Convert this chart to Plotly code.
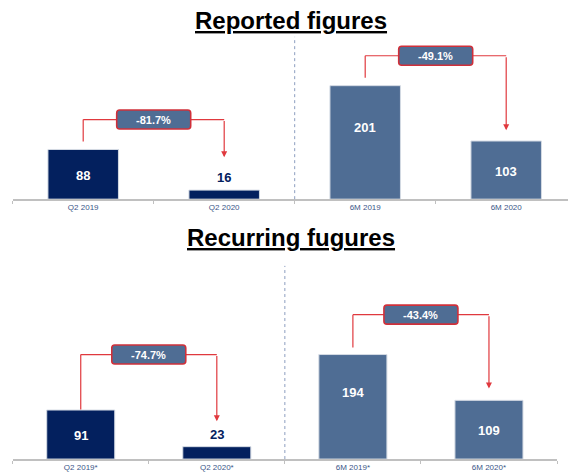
import plotly.graph_objects as go

# ---------------- data ----------------
titles = ["Reported figures", "Recurring fugures"]
top_categories = ["Q2 2019", "Q2 2020", "6M 2019", "6M 2020"]
top_values = [88, 16, 201, 103]
top_changes = ["-81.7%", "-49.1%"]
bottom_categories = ["Q2 2019*", "Q2 2020*", "6M 2019*", "6M 2020*"]
bottom_values = [91, 23, 194, 109]
bottom_changes = ["-74.7%", "-43.4%"]

# ---------------- style ----------------
W, H = 568, 472
NAVY = "#03205E"
STEEL = "#4F6D94"
RED = "#E0393E"
BOX_BORDER = "#D0303A"
AXIS = "#C0C0C0"
TICKFONT = "#3B5688"
FONT = "Liberation Sans, Arial, sans-serif"
bar_colors = [NAVY, NAVY, STEEL, STEEL]

# label position as fraction of bar height (None -> above the bar)
label_frac = [[0.48, None, 0.63, 0.48], [0.49, None, 0.64, 0.49]]
# bracket levels (start, horizontal level, arrow tip) in data units
brackets = [[(102, 141, 74), (215, 254, 122)], [(92, 194, 70), (207, 268, 131)]]


def py(p):
    return (H - p) / H


panels = [
    dict(cats=top_categories, vals=top_values, changes=top_changes, title=titles[0],
         xa="x", ya="y", xdom=[12.7 / W, 1.0], ydom=[py(200), py(40)],
         xr=[-0.5, -0.5 + (W - 12.7) / 141.0], yr=[0, 160 / 0.567],
         div=[py(200), py(37)], title_y=py(21)),
    dict(cats=bottom_categories, vals=bottom_values, changes=bottom_changes, title=titles[1],
         xa="x2", ya="y2", xdom=[12.7 / W, 557 / W], ydom=[py(461), py(267)],
         xr=[-0.5, 3.5], yr=[0, 194 / 0.541],
         div=[py(461), py(267)], title_y=py(239)),
]

fig = go.Figure()
shapes = []
annotations = []

for k, p in enumerate(panels):
    fig.add_trace(go.Bar(
        x=p["cats"], y=p["vals"], xaxis=p["xa"], yaxis=p["ya"],
        marker=dict(color=bar_colors, line=dict(color="#D5DBE4", width=1)),
        width=0.5, hoverinfo="skip", showlegend=False,
    ))
    # data labels
    for i, v in enumerate(p["vals"]):
        f = label_frac[k][i]
        if f is None:
            annotations.append(dict(x=i, y=v, xref=p["xa"], yref=p["ya"], text="<b>%d</b>" % v,
                                    showarrow=False, yanchor="bottom", yshift=3,
                                    font=dict(family=FONT, size=13, color=NAVY)))
        else:
            annotations.append(dict(x=i, y=v * f, xref=p["xa"], yref=p["ya"], text="<b>%d</b>" % v,
                                    showarrow=False, yanchor="middle",
                                    font=dict(family=FONT, size=13, color="white")))
    # divider
    shapes.append(dict(type="line", xref=p["xa"], yref="paper", x0=1.5, x1=1.5,
                       y0=p["div"][0], y1=p["div"][1],
                       line=dict(color="#8C9DBF", width=1, dash="dot")))
    # brackets
    for j, ch in enumerate(p["changes"]):
        a, b = 2 * j, 2 * j + 1
        start, level, tip = brackets[k][j]
        shapes.append(dict(type="line", xref=p["xa"], yref=p["ya"], x0=a, x1=a, y0=start, y1=level,
                           line=dict(color=RED, width=1.2)))
        shapes.append(dict(type="line", xref=p["xa"], yref=p["ya"], x0=a, x1=b, y0=level, y1=level,
                           line=dict(color=RED, width=1.2)))
        annotations.append(dict(x=b, y=tip, ax=b, ay=level, xref=p["xa"], yref=p["ya"],
                                axref=p["xa"], ayref=p["ya"], text="", showarrow=True,
                                arrowhead=2, arrowsize=1, arrowwidth=1.2, arrowcolor=RED,
                                standoff=0, startstandoff=0))
        w, h, r = 37, 9.5, 3
        path = ("M %g,%g L %g,%g Q %g,%g %g,%g L %g,%g Q %g,%g %g,%g L %g,%g Q %g,%g %g,%g "
                "L %g,%g Q %g,%g %g,%g Z") % (
            -w + r, -h, w - r, -h, w, -h, w, -h + r, w, h - r, w, h, w - r, h,
            -w + r, h, -w, h, -w, h - r, -w, -h + r, -w, -h, -w + r, -h)
        shapes.append(dict(type="path", xref=p["xa"], yref=p["ya"], xsizemode="pixel",
                           ysizemode="pixel", xanchor=(a + b) / 2, yanchor=level, path=path,
                           fillcolor=STEEL, line=dict(color=BOX_BORDER, width=1.6)))
        annotations.append(dict(x=(a + b) / 2, y=level, xref=p["xa"], yref=p["ya"],
                                text="<b>%s</b>" % ch, showarrow=False,
                                font=dict(family=FONT, size=11, color="white")))
    # title
    annotations.append(dict(x=290.5 / W, y=p["title_y"], xref="paper", yref="paper",
                            text="<b><u>%s</u></b>" % p["title"], showarrow=False,
                            yanchor="middle", font=dict(family=FONT, size=24, color="black")))

axis_common = dict(type="category", tickson="boundaries", ticks="outside", ticklen=3,
                   tickcolor=AXIS, showline=True, linecolor=AXIS, linewidth=1.5,
                   showgrid=False, zeroline=False, fixedrange=True,
                   tickfont=dict(family=FONT, size=8, color=TICKFONT))
fig.update_layout(
    width=W, height=H, margin=dict(l=0, r=0, t=0, b=0),
    paper_bgcolor="white", plot_bgcolor="white", showlegend=False,
    xaxis=dict(domain=panels[0]["xdom"], range=panels[0]["xr"], anchor="y", **axis_common),
    yaxis=dict(domain=panels[0]["ydom"], range=panels[0]["yr"], visible=False, fixedrange=True, anchor="x"),
    xaxis2=dict(domain=panels[1]["xdom"], range=panels[1]["xr"], anchor="y2", **axis_common),
    yaxis2=dict(domain=panels[1]["ydom"], range=panels[1]["yr"], visible=False, fixedrange=True, anchor="x2"),
    shapes=shapes, annotations=annotations,
)

fig.write_html("out.html", config={"displayModeBar": False, "staticPlot": True},
               post_script="document.body.style.margin='0px';")
